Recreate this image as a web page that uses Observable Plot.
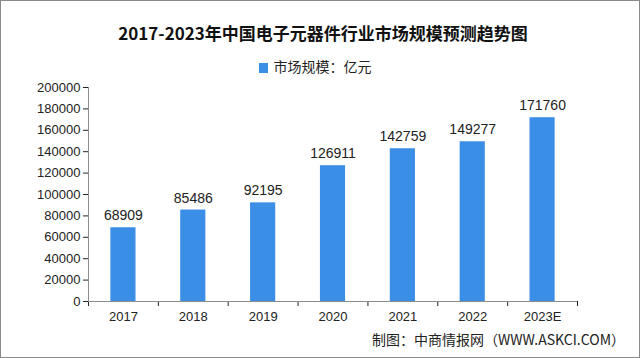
<!DOCTYPE html>
<html><head><meta charset="utf-8">
<script src="https://cdn.jsdelivr.net/npm/d3@7"></script>
<script src="https://cdn.jsdelivr.net/npm/@observablehq/plot@0.6"></script>
<style>
body{margin:0;background:#fff;}
#wrap{position:relative;width:640px;height:358px;overflow:hidden;background:#fff;font-family:"Noto Sans CJK SC","Liberation Sans",sans-serif;}
#frame{position:absolute;left:0;top:0;width:638px;height:356px;border:1px solid #8a8a8a;pointer-events:none;}
#title{position:absolute;left:0;width:646px;top:20px;text-align:center;font-size:17px;font-weight:bold;color:#111;}
#legend{position:absolute;left:0;width:630px;top:56px;text-align:center;font-size:14px;color:#222;}
#legend span.sw{display:inline-block;width:9px;height:10px;background:#3a8ee6;margin-right:6px;vertical-align:-1px;}
#chart{position:absolute;left:0;top:70px;}
#caption{position:absolute;right:15px;top:329px;font-size:14px;color:#222;}
</style></head>
<body><div id="wrap">
<div id="title">2017-2023年中国电子元器件行业市场规模预测趋势图</div>
<div id="legend"><span class="sw"></span>市场规模：亿元</div>
<div id="chart"></div>
<div id="caption">制图：中商情报网（WWW.ASKCI.COM）</div>
<div id="frame"></div>
</div>
<script>
const years = ["2017","2018","2019","2020","2021","2022","2023E"];
const values = [68909, 85486, 92195, 126911, 142759, 149277, 171760];
const yTicks = d3.range(0, 200001, 20000);
const data = years.map((y, i) => ({year: y, idx: i, value: values[i]}));

const plot = Plot.plot({
  width: 640,
  height: 256,
  marginLeft: 88,
  marginRight: 63,
  marginTop: 17,
  marginBottom: 25,
  style: {fontFamily: "Liberation Sans, sans-serif", fontSize: "13px", color: "#222", background: "transparent", overflow: "visible"},
  x: {type: "linear", domain: [0, 7], ticks: d3.range(8), tickFormat: () => "", tickSize: 5, label: null},
  y: {domain: [0, 200000], ticks: yTicks, tickFormat: d => String(d), tickSize: 5, label: null, tickPadding: 3},
  marks: [
    Plot.rectY(data, {x1: d => d.idx + 0.32, x2: d => d.idx + 0.68, y: "value", fill: "#3a8ee6"}),
    Plot.ruleX([0], {stroke: "#8c8c8c"}),
    Plot.ruleY([0], {stroke: "#8c8c8c"}),
    Plot.text(data, {x: d => d.idx + 0.5, y: "value", text: d => String(d.value), dy: -12, fontSize: 14, fill: "#222"}),
    Plot.text(data, {x: d => d.idx + 0.5, y: 0, text: "year", dy: 15, fontSize: 13, fill: "#222"})
  ]
});
document.getElementById("chart").appendChild(plot);
</script>
</body></html>
